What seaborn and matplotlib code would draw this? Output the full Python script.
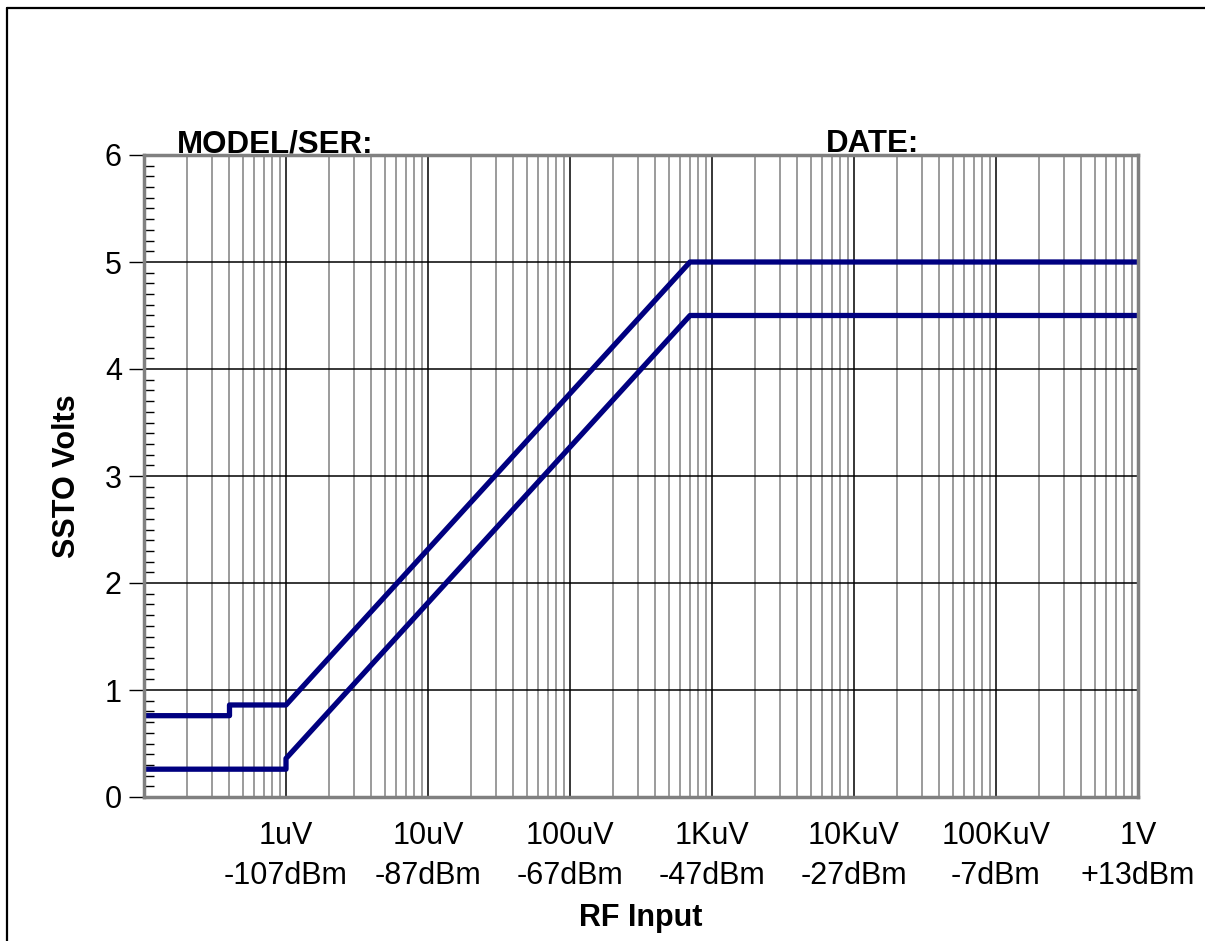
import numpy as np
import pandas as pd
import seaborn as sns
from matplotlib import pyplot as plt
from matplotlib.lines import Line2D
from matplotlib.ticker import FixedLocator, LogLocator, MultipleLocator, NullFormatter

# RF input (volts) vs SSTO output (volts), two limit curves
upper_x = [1e-7, 4e-7, 4e-7, 1e-6, 7e-4, 1.0]
upper_y = [0.76, 0.76, 0.86, 0.86, 5.0, 5.0]
lower_x = [1e-7, 1e-6, 1e-6, 7e-4, 1.0]
lower_y = [0.26, 0.26, 0.36, 4.5, 4.5]

tick_volts = [1e-7, 1e-6, 1e-5, 1e-4, 1e-3, 1e-2, 1e-1, 1.0]
tick_labels = ['', '1uV\n-107dBm', '10uV\n-87dBm', '100uV\n-67dBm', '1KuV\n-47dBm',
               '10KuV\n-27dBm', '100KuV\n-7dBm', '1V\n+13dBm']

df = pd.concat([
    pd.DataFrame({'rf': upper_x, 'ssto': upper_y, 'curve': 'upper'}),
    pd.DataFrame({'rf': lower_x, 'ssto': lower_y, 'curve': 'lower'}),
])

sns.set_theme(style='white')
plt.rcParams['font.family'] = ['Liberation Sans', 'DejaVu Sans']
plt.rcParams['text.color'] = 'black'
plt.rcParams['axes.labelcolor'] = 'black'
plt.rcParams['xtick.labelcolor'] = 'black'
plt.rcParams['ytick.labelcolor'] = 'black'

fig = plt.figure(figsize=(12.05, 9.41), dpi=100)
ax = fig.add_axes([144 / 1205, 1 - 797 / 941, 994 / 1205, 642 / 941])

ax.set_xscale('log')
ax.set_xlim(1e-7, 1.0)
ax.set_ylim(0, 6)

# grid first so the curves sit on top
ax.xaxis.set_major_locator(FixedLocator(tick_volts))
ax.xaxis.set_minor_locator(LogLocator(base=10, subs=np.arange(2, 10)))
ax.xaxis.set_minor_formatter(NullFormatter())
ax.yaxis.set_major_locator(MultipleLocator(1))
ax.yaxis.set_minor_locator(MultipleLocator(0.1))
ax.grid(which='major', axis='both', color='black', lw=1.1)
ax.grid(which='minor', axis='x', color='#808080', lw=1.1)
ax.set_axisbelow(True)

sns.lineplot(data=df, x='rf', y='ssto', units='curve', estimator=None, sort=False,
             color='#000080', lw=3.8, ax=ax, legend=False)

ax.set_xticklabels(tick_labels, fontsize=22, linespacing=1.45)
ax.tick_params(axis='x', which='major', direction='out', length=11, width=1, color='#606060', pad=6)
ax.tick_params(axis='x', which='minor', length=0)
ax.tick_params(axis='y', which='major', direction='out', length=11, width=1, color='black',
               labelsize=22, pad=5, left=True)
ax.tick_params(axis='y', which='minor', direction='in', length=7, width=1, color='black', left=True)

for side in ['left', 'bottom', 'top', 'right']:
    ax.spines[side].set_visible(True)
    ax.spines[side].set_color('#808080')
    ax.spines[side].set_linewidth(2.5)

ax.set_xlabel('RF Input', fontsize=22, fontweight='bold', labelpad=9)
ax.set_ylabel('SSTO Volts', fontsize=22, fontweight='bold', labelpad=16)

ax.text(0.033, 1.004, 'MODEL/SER:', transform=ax.transAxes, fontsize=22.5,
        fontweight='bold', va='baseline', ha='left')
ax.text(0.686, 1.004, 'DATE:', transform=ax.transAxes, fontsize=22.5,
        fontweight='bold', va='baseline', ha='left')

# outer frame (clipped at right and bottom in the original)
fig.add_artist(Line2D([6.5 / 1205, 6.5 / 1205], [0, 1 - 7.5 / 941], transform=fig.transFigure,
                      color='black', lw=1.6))
fig.add_artist(Line2D([6.5 / 1205, 1], [1 - 7.5 / 941, 1 - 7.5 / 941], transform=fig.transFigure,
                      color='black', lw=1.6))

fig.savefig('out.png', dpi=100, facecolor='white')
